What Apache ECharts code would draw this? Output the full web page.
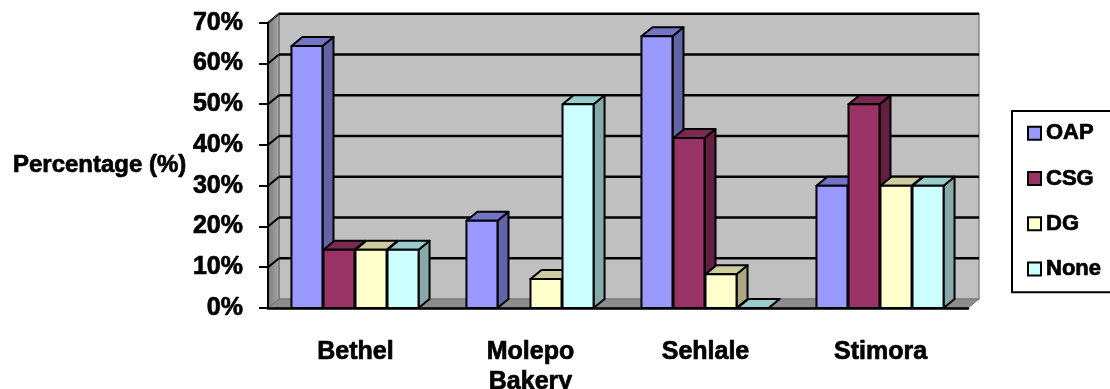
<!DOCTYPE html>
<html>
<head>
<meta charset="utf-8">
<script src="https://cdn.jsdelivr.net/npm/echarts@6/dist/echarts.min.js"></script>
<style>
  html, body { margin: 0; padding: 0; background: #fff; }
  #chart { width: 1110px; height: 389px; }
</style>
</head>
<body>
<div id="chart"></div>
<script>
// data
const categories = ['Bethel', 'Molepo\nBakery', 'Sehlale', 'Stimora'];
const seriesNames = ['OAP', 'CSG', 'DG', 'None'];
const oap  = [64.3, 21.4, 66.7, 30];
const csg  = [14.3, null, 41.7, 50];
const dg   = [14.3, 7.1, 8.3, 30];
const none = [14.3, 50, 0, 30];
const yTicks = [0, 10, 20, 30, 40, 50, 60, 70];

// front / top / side colours of each series
const faces = [
  ['#9999FF', '#7474C6', '#6363A8'],
  ['#993366', '#7A2952', '#621F40'],
  ['#FFFFCC', '#CCCC9F', '#A8A884'],
  ['#CCFFFF', '#99CCCC', '#86AAAA']
];
const DX = 11, DY = -9;   // fake 3d depth

const chart = echarts.init(document.getElementById('chart'));

// back wall, left wall, floor and the grid lines on them
function renderBackdrop(params, api) {
  const cs = params.coordSys;
  const x1 = cs.x, x2 = cs.x + cs.width;
  const yb = api.coord([0, 0])[1];
  const kids = [];
  const yTop = api.coord([0, yTicks[yTicks.length - 1]])[1];
  kids.push({ type: 'rect', shape: { x: x1 + DX, y: yTop + DY, width: x2 - x1, height: yb - yTop },
    style: { fill: '#C0C0C0', stroke: '#888', lineWidth: 1.5 } });
  kids.push({ type: 'polygon', shape: { points: [[x1, yb], [x1, yTop], [x1 + DX, yTop + DY], [x1 + DX, yb + DY]] },
    style: { fill: new echarts.graphic.LinearGradient(0, 0, 1, 0, [{ offset: 0, color: '#7a7a7a' }, { offset: 1, color: '#a8a8a8' }]), stroke: '#666', lineWidth: 1 } });
  kids.push({ type: 'polygon', shape: { points: [[x1, yb], [x2, yb], [x2 + DX, yb + DY], [x1 + DX, yb + DY]] },
    style: { fill: '#8C8C8C', stroke: '#777', lineWidth: 1 } });
  yTicks.forEach(function (t) {
    if (t === 0) return;
    const y = api.coord([0, t])[1];
    kids.push({ type: 'line', shape: { x1: x1 + DX, y1: y + DY, x2: x2 + DX, y2: y + DY }, style: { stroke: '#000', lineWidth: 2.5 } });
    kids.push({ type: 'line', shape: { x1: x1, y1: y, x2: x1 + DX, y2: y + DY }, style: { stroke: '#000', lineWidth: 2 } });
  });
  kids.push({ type: 'line', shape: { x1: x1, y1: yTop, x2: x1 + DX, y2: yTop + DY }, style: { stroke: '#555', lineWidth: 1 } });
  return { type: 'group', children: kids };
}

function makeBarRenderer(k) {
  return function (params, api) {
    const v = api.value(1);
    if (isNaN(v)) return;
    const base = api.coord([api.value(0), 0]);
    const top = api.coord([api.value(0), v]);
    const slot = api.size([1, 0])[0] * 0.183;
    const x0 = base[0] - 2 * slot + k * slot;
    const w = slot - 1;
    const y0 = base[1], y1 = top[1];
    const c = faces[k];
    const st = { stroke: '#000', lineWidth: 2, lineJoin: 'round' };
    return {
      type: 'group',
      children: [
        { type: 'polygon', shape: { points: [[x0 + w, y1], [x0 + w + DX, y1 + DY], [x0 + w + DX, y0 + DY], [x0 + w, y0]] },
          style: Object.assign({ fill: c[2] }, st) },
        { type: 'polygon', shape: { points: [[x0, y1], [x0 + DX, y1 + DY], [x0 + w + DX, y1 + DY], [x0 + w, y1]] },
          style: Object.assign({ fill: c[1] }, st) },
        { type: 'rect', shape: { x: x0, y: y1, width: w, height: y0 - y1 },
          style: Object.assign({ fill: c[0] }, st) }
      ]
    };
  };
}

const values = [oap, csg, dg, none];
const barSeries = seriesNames.map(function (name, k) {
  return {
    name: name,
    type: 'custom',
    renderItem: makeBarRenderer(k),
    itemStyle: { color: faces[k][0] },
    encode: { x: 0, y: 1 },
    data: values[k].map(function (v, i) { return [i, v === null ? '-' : v]; }),
    z: 3
  };
});

// heavy bold text like the original
const font = {
  fontFamily: 'Arial, "Liberation Sans", sans-serif', fontWeight: 'bold', color: '#000',
  textBorderColor: '#000', textBorderWidth: 0.7
};

chart.setOption({
  animation: false,
  backgroundColor: '#fff',
  grid: { left: 268, right: 142, top: 22.7, bottom: 81, outerBoundsMode: 'none' },
  legend: {
    orient: 'vertical',
    left: 1012,
    top: 111,
    padding: [11, 30, 12, 15],
    itemGap: 22.5,
    itemWidth: 13,
    itemHeight: 13,
    icon: 'rect',
    borderColor: '#000',
    borderWidth: 2,
    itemStyle: { borderColor: '#000', borderWidth: 2 },
    textStyle: Object.assign({ fontSize: 22, padding: [0, 0, 0, 0] }, font),
    data: seriesNames
  },
  xAxis: {
    type: 'category',
    data: categories,
    axisLine: { lineStyle: { color: '#000', width: 2.5 } },
    axisTick: { length: 10, lineStyle: { color: '#000', width: 2 } },
    axisLabel: Object.assign({ fontSize: 25, lineHeight: 30, margin: 29 }, font),
    z: 5
  },
  yAxis: {
    type: 'value',
    min: 0,
    max: 70,
    interval: 10,
    name: 'Percentage (%)',
    nameLocation: 'middle',
    nameRotate: 0,
    nameGap: 78,
    nameTextStyle: Object.assign({ fontSize: 24, align: 'right', verticalAlign: 'middle', padding: [0, 0, 6, 0] }, font),
    axisLine: { show: true, lineStyle: { color: '#000', width: 2 } },
    axisTick: { show: true, length: 9, lineStyle: { color: '#000', width: 2 } },
    axisLabel: Object.assign({ fontSize: 25, margin: 25, formatter: '{value}%' }, font),
    splitLine: { show: false },
    z: 5
  },
  series: [{
    name: 'backdrop',
    type: 'custom',
    renderItem: renderBackdrop,
    data: [[0, 0]],
    encode: { x: 0, y: 1 },
    silent: true,
    z: 1
  }].concat(barSeries)
});
</script>
</body>
</html>
